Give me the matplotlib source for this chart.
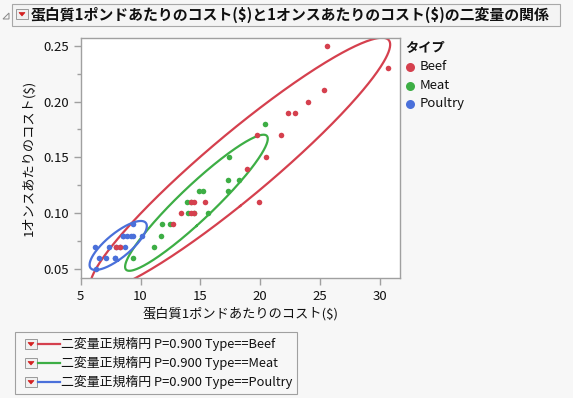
import numpy as np
import matplotlib
matplotlib.use("Agg")
import matplotlib.pyplot as plt
from matplotlib.patches import Rectangle, Polygon
from matplotlib.lines import Line2D

plt.rcParams['font.family'] = ['Noto Sans CJK JP', 'DejaVu Sans']

title = "蛋白質1ポンドあたりのコスト(\\$)と1オンスあたりのコスト(\\$)の二変量の関係"
xlabel = "蛋白質1ポンドあたりのコスト(\\$)"
ylabel = "1オンスあたりのコスト(\\$)"
types = ["Beef", "Meat", "Poultry"]
colors = ["#D5404E", "#3DAE45", "#4A70DA"]

beef_x = [25.6, 30.7, 25.3, 24.0, 22.3, 22.9, 21.7, 19.75, 20.45, 18.85, 19.9,
          14.2, 14.45, 15.4, 13.35, 14.2, 14.45, 12.7, 7.95, 8.3]
beef_y = [0.25, 0.23, 0.21, 0.20, 0.19, 0.19, 0.17, 0.17, 0.15, 0.14, 0.11,
          0.11, 0.11, 0.11, 0.10, 0.10, 0.10, 0.09, 0.07, 0.07]
meat_x = [20.4, 17.35, 17.3, 18.25, 17.3, 14.85, 15.2, 13.9, 14.0, 15.6,
          11.8, 12.5, 11.7, 11.15, 9.4, 14.2, 14.45]
meat_y = [0.18, 0.15, 0.13, 0.13, 0.12, 0.12, 0.12, 0.11, 0.10, 0.10,
          0.09, 0.09, 0.08, 0.07, 0.06, 0.11, 0.10]
poultry_x = [9.4, 8.55, 8.85, 9.2, 9.4, 10.15, 6.2, 7.35, 8.7, 6.55, 7.1, 7.85, 6.3,
             7.95, 8.3, 8.55, 7.85]
poultry_y = [0.09, 0.08, 0.08, 0.08, 0.08, 0.08, 0.07, 0.07, 0.07, 0.06, 0.06, 0.06, 0.05,
             0.07, 0.07, 0.08, 0.06]
prob = 0.90

series = [(beef_x, beef_y), (meat_x, meat_y), (poultry_x, poultry_y)]

W, H = 573, 398
fig = plt.figure(figsize=(W / 100, H / 100), dpi=100)
fig.patch.set_facecolor("#F7F7F7")

def px(x0, y0, w, h):
    return [x0 / W, 1 - (y0 + h) / H, w / W, h / H]

ax = fig.add_axes(px(80.7, 38.3, 319.3, 240))
ax.set_facecolor("white")
ax.set_xlim(5, 31.67)
ax.set_ylim(0.0418, 0.2566)
ax.set_xticks([5, 10, 15, 20, 25, 30])
ax.set_yticks([0.05, 0.10, 0.15, 0.20, 0.25])
ax.set_yticks([0.075, 0.125, 0.175, 0.225], minor=True)
ax.set_yticklabels(["0.05", "0.10", "0.15", "0.20", "0.25"])
for s in ax.spines.values():
    s.set_color("#A0A0A0")
    s.set_linewidth(1.0)
ax.tick_params(which="both", color="#A0A0A0", labelsize=9.5, labelcolor="#111111",
               length=5, width=1)
ax.tick_params(which="minor", length=3)
ax.set_xlabel(xlabel, fontsize=9.5, labelpad=3, color="#111111")
ax.set_ylabel(ylabel, fontsize=9.5, labelpad=6, color="#111111")

r2 = -2 * np.log(1 - prob)
t = np.linspace(0, 2 * np.pi, 400)
zs = [3.3, 3.2, 3.1]
for (xs, ys), c, z in zip(series, colors, zs):
    xs = np.asarray(xs); ys = np.asarray(ys)
    ax.scatter(xs, ys, s=16, color=c, zorder=z, linewidths=0)
    m = np.array([xs.mean(), ys.mean()])
    cov = np.cov(np.vstack([xs, ys]), bias=True)
    vals, vecs = np.linalg.eigh(cov)
    pts = (vecs @ (np.sqrt(vals * r2)[:, None] * np.vstack([np.cos(t), np.sin(t)]))).T + m
    ax.plot(pts[:, 0], pts[:, 1], color=c, lw=1.6, zorder=2)

# Right legend
fig.text(405 / W, 1 - 47 / H, "タイプ", fontsize=9.5, fontweight="bold",
         va="center", ha="left", color="#111111")
for i, (lab, c) in enumerate(zip(types, colors)):
    yy = 1 - (67 + 18.5 * i) / H
    fig.add_artist(Line2D([410 / W], [yy], marker="o", markersize=6.5, color=c,
                          markeredgewidth=0, linestyle="none"))
    fig.text(420 / W, yy, lab, fontsize=9.5, va="center", ha="left", color="#111111")

# Title bar
fig.add_artist(Rectangle((12 / W, 1 - 26 / H), 548 / W, 22 / H, transform=fig.transFigure,
                         facecolor="#F4F4F4", edgecolor="#A8A8A8", lw=0.8))
fig.add_artist(Polygon([[3 / W, 1 - 19 / H], [9 / W, 1 - 19 / H], [9 / W, 1 - 13 / H]],
                       closed=True, transform=fig.transFigure, facecolor="none",
                       edgecolor="#888888", lw=0.7))

def dropdown(x0, y0):
    fig.add_artist(Rectangle((x0 / W, 1 - (y0 + 10) / H), 12 / W, 10 / H,
                             transform=fig.transFigure, facecolor="#F0F0F0",
                             edgecolor="#9A9A9A", lw=0.7))
    fig.add_artist(Polygon([[(x0 + 3) / W, 1 - (y0 + 3.5) / H],
                            [(x0 + 9) / W, 1 - (y0 + 3.5) / H],
                            [(x0 + 6) / W, 1 - (y0 + 7) / H]], closed=True,
                           transform=fig.transFigure, facecolor="#D42020",
                           edgecolor="#D42020", lw=0.5))

dropdown(16, 9)
fig.text(31 / W, 1 - 14.5 / H, title, fontsize=10.75, fontweight="bold",
         va="center", ha="left", color="#111111")

# Bottom legend box
fig.add_artist(Rectangle((14.5 / W, 1 - 394 / H), 282.5 / W, 62 / H, transform=fig.transFigure,
                         facecolor="#F7F7F7", edgecolor="#A0A0A0", lw=0.8))
for i, (lab, c) in enumerate(zip(types, colors)):
    yc = 344 + 19 * i
    dropdown(25, yc - 5)
    fig.add_artist(Line2D([38 / W, 60 / W], [1 - yc / H, 1 - yc / H], color=c, lw=1.6))
    fig.text(61 / W, 1 - yc / H, f"二変量正規楕円 P={prob:.3f} Type=={lab}",
             fontsize=9.3, va="center", ha="left", color="#111111")

fig.savefig("out.png", dpi=100, facecolor=fig.get_facecolor())
